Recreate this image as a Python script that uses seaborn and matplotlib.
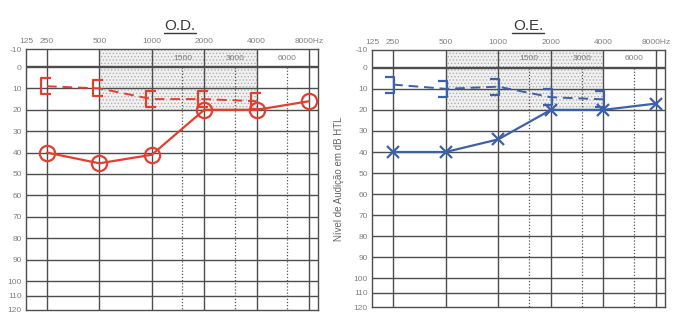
import numpy as np
import matplotlib
matplotlib.use("Agg")
import matplotlib.pyplot as plt
import seaborn as sns
from matplotlib.path import Path
from matplotlib.lines import Line2D

# audiogram values (dB HL)
freqs = [250, 500, 1000, 2000, 4000, 8000]
bone_freqs = [250, 500, 1000, 2000, 4000]
od_air = [40, 45, 41, 20, 20, 16]
od_bone = [9, 10, 15, 15, 16]
oe_air = [40, 40, 34, 20, 20, 17]
oe_bone = [8, 10, 9, 14, 15]

top_ticks = [125, 250, 500, 1000, 2000, 4000, 8000]
top_labels = ['125', '250', '500', '1000', '2000', '4000', '8000Hz']
mid_ticks = [1500, 3000, 6000]
db_ticks = list(range(-10, 130, 10))
zone_freqs = [500, 4000]
zone_db = [-10, 20]

RED = '#e0402f'
BLUE = '#3d61a6'
GRID = '#4d4d4d'
LABEL = '#808080'

sns.set_style('white')
plt.rcParams['font.family'] = ['Liberation Sans', 'DejaVu Sans']
plt.rcParams['hatch.linewidth'] = 0.6


# printed audiogram form: 125 Hz column squeezed, -10..0 and 100..120 rows squeezed
def x_fwd(f):
    o = np.log2(np.clip(np.asarray(f, dtype=float), 1e-9, None) / 250.0)
    return np.where(o < 0, 0.4 * o, o)


def x_inv(p):
    p = np.asarray(p, dtype=float)
    return 250.0 * 2 ** np.where(p < 0, p / 0.4, p)


def y_fwd(d):
    d = np.asarray(d, dtype=float)
    return np.where(d < 0, 1.8 * d, np.where(d <= 100, 2.14 * d, 214 + 1.45 * (d - 100)))


def y_inv(p):
    p = np.asarray(p, dtype=float)
    return np.where(p < 0, p / 1.8, np.where(p <= 214, p / 2.14, 100 + (p - 214) / 1.45))


# bone conduction brackets
bracket_right_ear = Path([(0.5, 1), (-0.7, 1), (-0.7, -1), (0.5, -1)],
                         [Path.MOVETO, Path.LINETO, Path.LINETO, Path.LINETO])
bracket_left_ear = Path([(-0.9, 1), (0.1, 1), (0.1, -1), (-0.9, -1)],
                        [Path.MOVETO, Path.LINETO, Path.LINETO, Path.LINETO])


def draw_panel(ax, air, bone, color, air_marker, air_ms, bone_marker):
    ax.fill_between(zone_freqs, zone_db[0], zone_db[1], facecolor='#f0f0f0',
                    edgecolor='#b0b0b0', hatch='.....', linewidth=0, zorder=0)
    for d in db_ticks[1:-1]:
        ax.axhline(d, color=GRID, lw=1.7 if d == 0 else 1.0, zorder=1)
    for f in freqs:
        ax.axvline(f, color=GRID, lw=1.0, zorder=1)
    for f in mid_ticks:
        ax.plot([f, f], [0, 120], color='#555555', lw=0.9, ls=(0, (1, 1.5)), zorder=1)
        ax.text(f, -5, str(f), ha='center', va='center', fontsize=6, color=LABEL)

    sns.lineplot(x=freqs, y=air, ax=ax, color=color, linewidth=1.6,
                 marker=air_marker, markersize=air_ms, markerfacecolor='none',
                 markeredgecolor=color, markeredgewidth=1.6, clip_on=False, zorder=4)
    sns.lineplot(x=bone_freqs, y=bone, ax=ax, color=color, linewidth=1.4,
                 linestyle=(0, (5, 3)), marker=bone_marker, markersize=12,
                 markerfacecolor='none', markeredgecolor=color, markeredgewidth=1.6,
                 clip_on=False, zorder=4)

    ax.set_xscale('function', functions=(x_fwd, x_inv))
    ax.set_yscale('function', functions=(y_fwd, y_inv))
    ax.set_xlim(125, 9000)
    ax.set_ylim(120, -10)
    ax.xaxis.tick_top()
    ax.set_xticks(top_ticks, top_labels)
    ax.set_yticks(db_ticks, [str(d) for d in db_ticks])
    ax.minorticks_off()
    ax.tick_params(length=0, labelsize=6, labelcolor=LABEL, pad=3)
    ax.set_xlabel('')
    ax.set_ylabel('')
    for s in ax.spines.values():
        s.set_color(GRID)
        s.set_linewidth(1.0)
        s.set_visible(True)


fig = plt.figure(figsize=(7, 3.34), dpi=100)
ax_od = fig.add_axes([26 / 700, 24 / 334, 292 / 700, 261 / 334])
ax_oe = fig.add_axes([372 / 700, 27 / 334, 293 / 700, 257 / 334])

draw_panel(ax_od, od_air, od_bone, RED, 'o', 11, bracket_right_ear)
draw_panel(ax_oe, oe_air, oe_bone, BLUE, 'x', 9, bracket_left_ear)

ax_oe.set_ylabel('Nível de Audição em dB HTL', fontsize=7, color='#666666', labelpad=7)

# underlined panel titles
for cx, title in [(180, 'O.D.'), (528, 'O.E.')]:
    fig.text(cx / 700, 1 - 26 / 334, title, ha='center', va='center',
             fontsize=11, color='#3a3a3a')
    fig.add_artist(Line2D([(cx - 16) / 700, (cx + 16) / 700], [1 - 33 / 334] * 2,
                          transform=fig.transFigure, color='#3a3a3a', lw=1.0))

fig.savefig('out.png', dpi=100, facecolor='white')
